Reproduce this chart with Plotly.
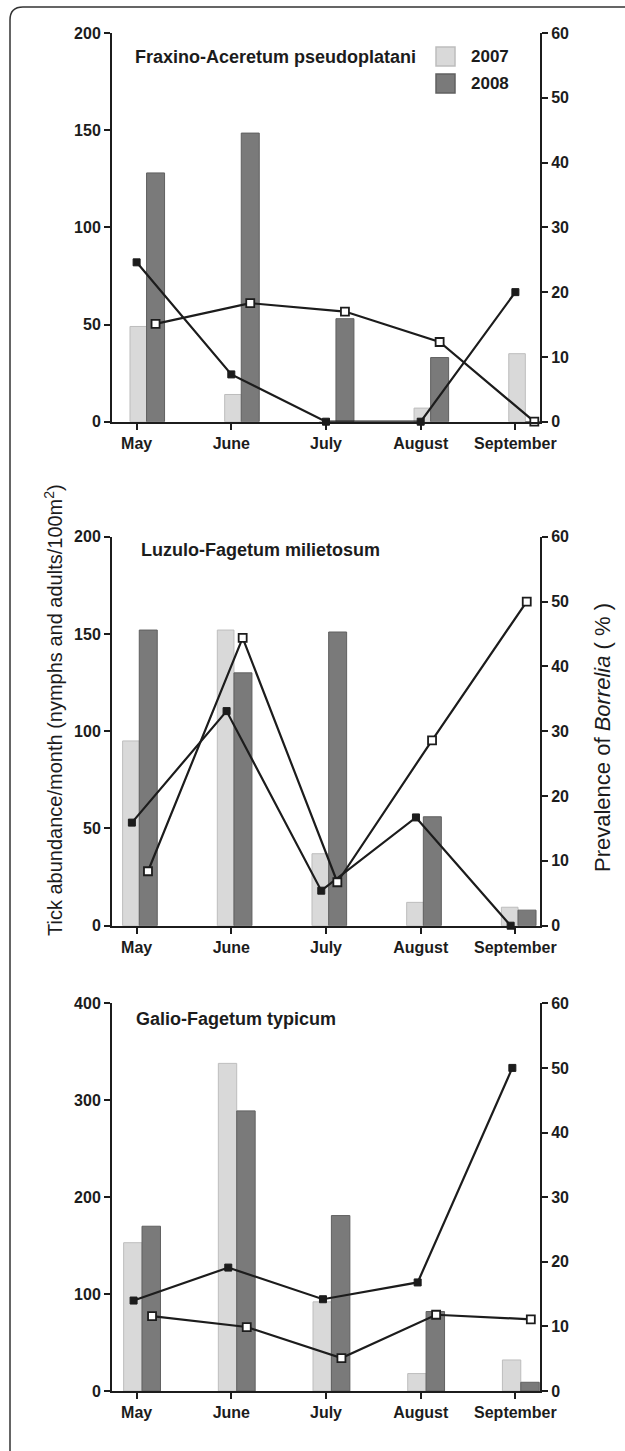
import plotly.graph_objects as go

# ---------------- data ----------------
months = ["May", "June", "July", "August", "September"]
year_labels = ["2007", "2008"]

panel_titles = ["Fraxino-Aceretum pseudoplatani", "Luzulo-Fagetum milietosum", "Galio-Fagetum typicum"]

# tick abundance / month (nymphs and adults / 100 m2)
fraxino_2007 = [49, 14, 0, 7, 35]
fraxino_2008 = [128, 148.5, 53, 33, 0]
luzulo_2007 = [95, 152, 37, 12, 9.5]
luzulo_2008 = [152, 130, 151, 56, 8]
galio_2007 = [153, 338, 92, 18, 32]
galio_2008 = [170, 289, 181, 82, 9]

# prevalence of Borrelia (%)
fraxino_prev_2007 = [24.6, 7.3, 0, 0, 20.0]
fraxino_prev_2008 = [15.1, 18.3, 17.0, 12.3, 0]
luzulo_prev_2007 = [15.9, 33.1, 5.4, 16.7, 0]
luzulo_prev_2008 = [8.4, 44.4, 6.7, 28.6, 50.0]
galio_prev_2007 = [14.0, 19.1, 14.2, 16.8, 50.0]
galio_prev_2008 = [11.6, 9.9, 5.1, 11.8, 11.1]

left_ranges = [200, 200, 400]
left_dticks = [50, 50, 100]
right_range = 60
right_dtick = 10

# ---------------- styling / layout ----------------
W, H = 625, 1451
ML, MR, MT, MB = 112, 85, 33, 60
PW, PH = W - ML - MR, H - MT - MB


def px_x(px):
    return (px - ML) / PW


def px_y(py):
    return (H - MB - py) / PH


panel_px = [(33, 421.7), (536.7, 925.7), (1003.3, 1391)]
# per panel: (bar07 offset, bar07 width, bar08 offset, bar08 width, line07 shift, line08 shift)
panel_offsets = [
    (-0.07, 0.175, 0.105, 0.19, 0.0, 0.20),
    (-0.148, 0.176, 0.028, 0.19, -0.05, 0.12),
    (-0.137, 0.194, 0.057, 0.195, -0.032, 0.163),
]
title_px = [(133, 57), (139, 550), (134, 1019)]

C07 = "#d9d9d9"
C07_LINE = "#bdbdbd"
C08 = "#7a7a7a"
C08_LINE = "#606060"
INK = "#1c1c1c"
FONT = "Liberation Sans, Arial, sans-serif"
TICKFONT = dict(family=FONT, size=16, color=INK, weight="bold")

data_sets = [
    (fraxino_2007, fraxino_2008, fraxino_prev_2007, fraxino_prev_2008),
    (luzulo_2007, luzulo_2008, luzulo_prev_2007, luzulo_prev_2008),
    (galio_2007, galio_2008, galio_prev_2007, galio_prev_2008),
]

idx = list(range(len(months)))
fig = go.Figure()
layout = dict(
    width=W, height=H,
    margin=dict(l=ML, r=MR, t=MT, b=MB),
    paper_bgcolor="white", plot_bgcolor="rgba(0,0,0,0)",
    showlegend=False,
    font=dict(family=FONT, color=INK),
    barmode="overlay",
)

annotations = []
shapes = []

for p in range(3):
    a07, a08, p07, p08 = data_sets[p]
    o07, w07, o08, w08, s07, s08 = panel_offsets[p]
    xa = "x" if p == 0 else f"x{p + 1}"
    yl = "y" if p == 0 else f"y{2 * p + 1}"
    yr = f"y{2 * p + 2}"
    top_px, bot_px = panel_px[p]
    dom = [px_y(bot_px), px_y(top_px)]

    fig.add_trace(go.Bar(x=idx, y=a07, offset=o07, width=w07, xaxis=xa, yaxis=yl,
                         marker=dict(color=C07, line=dict(color=C07_LINE, width=1)),
                         name=year_labels[0]))
    fig.add_trace(go.Bar(x=idx, y=a08, offset=o08, width=w08, xaxis=xa, yaxis=yl,
                         marker=dict(color=C08, line=dict(color=C08_LINE, width=1)),
                         name=year_labels[1]))
    fig.add_trace(go.Scatter(x=[i + s07 for i in idx], y=p07, xaxis=xa, yaxis=yr,
                             mode="lines+markers", cliponaxis=False,
                             line=dict(color=INK, width=2.2),
                             marker=dict(symbol="square", size=7, color=INK,
                                         line=dict(color=INK, width=1)),
                             name="Prevalence " + year_labels[0]))
    fig.add_trace(go.Scatter(x=[i + s08 for i in idx], y=p08, xaxis=xa, yaxis=yr,
                             mode="lines+markers", cliponaxis=False,
                             line=dict(color=INK, width=2.2),
                             marker=dict(symbol="square", size=8, color="white",
                                         line=dict(color=INK, width=1.8)),
                             name="Prevalence " + year_labels[1]))

    xkey = "xaxis" if p == 0 else f"xaxis{p + 1}"
    ylkey = "yaxis" if p == 0 else f"yaxis{2 * p + 1}"
    yrkey = f"yaxis{2 * p + 2}"

    layout[xkey] = dict(
        domain=[0, 1], anchor=yl, range=[-0.26, len(months) - 1 + 0.26],
        tickmode="array", tickvals=idx, ticktext=months,
        ticks="outside", ticklen=6, tickwidth=2, tickcolor=INK,
        showline=True, linewidth=2, linecolor=INK, showgrid=False, zeroline=False,
        tickfont=TICKFONT, fixedrange=True,
    )
    layout[ylkey] = dict(
        domain=dom, anchor=xa, range=[0, left_ranges[p]], dtick=left_dticks[p],
        ticks="outside", ticklen=6, tickwidth=2, tickcolor=INK,
        showline=True, linewidth=2, linecolor=INK, showgrid=False, zeroline=False,
        tickfont=TICKFONT, fixedrange=True,
    )
    layout[yrkey] = dict(
        domain=dom, anchor=xa, overlaying=yl, side="right",
        range=[0, right_range], dtick=right_dtick,
        ticks="outside", ticklen=6, tickwidth=2, tickcolor=INK,
        showline=True, linewidth=2, linecolor=INK, showgrid=False, zeroline=False,
        tickfont=TICKFONT, fixedrange=True,
    )

    tx, ty = title_px[p]
    annotations.append(dict(
        text=panel_titles[p], xref="paper", yref="paper",
        x=px_x(tx), y=px_y(ty), xanchor="left", yanchor="middle", showarrow=False,
        font=dict(family=FONT, size=18, color=INK, weight="bold"),
    ))

# legend (top panel)
legend_items = [(year_labels[0], C07, C07_LINE, 47, 66), (year_labels[1], C08, C08_LINE, 74, 93)]
for lab, fc, lc, y0, y1 in legend_items:
    shapes.append(dict(type="rect", xref="paper", yref="paper",
                       x0=px_x(436), x1=px_x(455), y0=px_y(y1), y1=px_y(y0),
                       fillcolor=fc, line=dict(color=lc, width=1.5)))
    annotations.append(dict(
        text=lab, xref="paper", yref="paper", x=px_x(469), y=px_y((y0 + y1) / 2),
        xanchor="left", yanchor="middle", showarrow=False,
        font=dict(family=FONT, size=17, color=INK, weight="bold"),
    ))

# axis titles
annotations.append(dict(
    text="Tick abundance/month (nymphs and adults/100m<sup>2</sup>)",
    xref="paper", yref="paper", x=px_x(53), y=px_y(710),
    xanchor="center", yanchor="middle", textangle=-90, showarrow=False,
    font=dict(family=FONT, size=20, color=INK),
))
annotations.append(dict(
    text="Prevalence of <i>Borrelia</i> ( % )",
    xref="paper", yref="paper", x=px_x(603), y=px_y(738),
    xanchor="center", yanchor="middle", textangle=-90, showarrow=False,
    font=dict(family=FONT, size=22, color=INK),
))

# outer frame with rounded top-left corner
fx, fy, fr = 10, 7, 13
path = (f"M {px_x(fx)},{px_y(H + 5)} L {px_x(fx)},{px_y(fy + fr)} "
        f"Q {px_x(fx)},{px_y(fy)} {px_x(fx + fr)},{px_y(fy)} L {px_x(W + 5)},{px_y(fy)}")
shapes.append(dict(type="path", xref="paper", yref="paper", path=path,
                   line=dict(color="#333333", width=1.5)))

layout["annotations"] = annotations
layout["shapes"] = shapes
fig.update_layout(**layout)

fig.write_html("out.html", config={"displayModeBar": False},
               post_script="document.body.style.margin='0px';document.body.style.overflow='hidden';")
